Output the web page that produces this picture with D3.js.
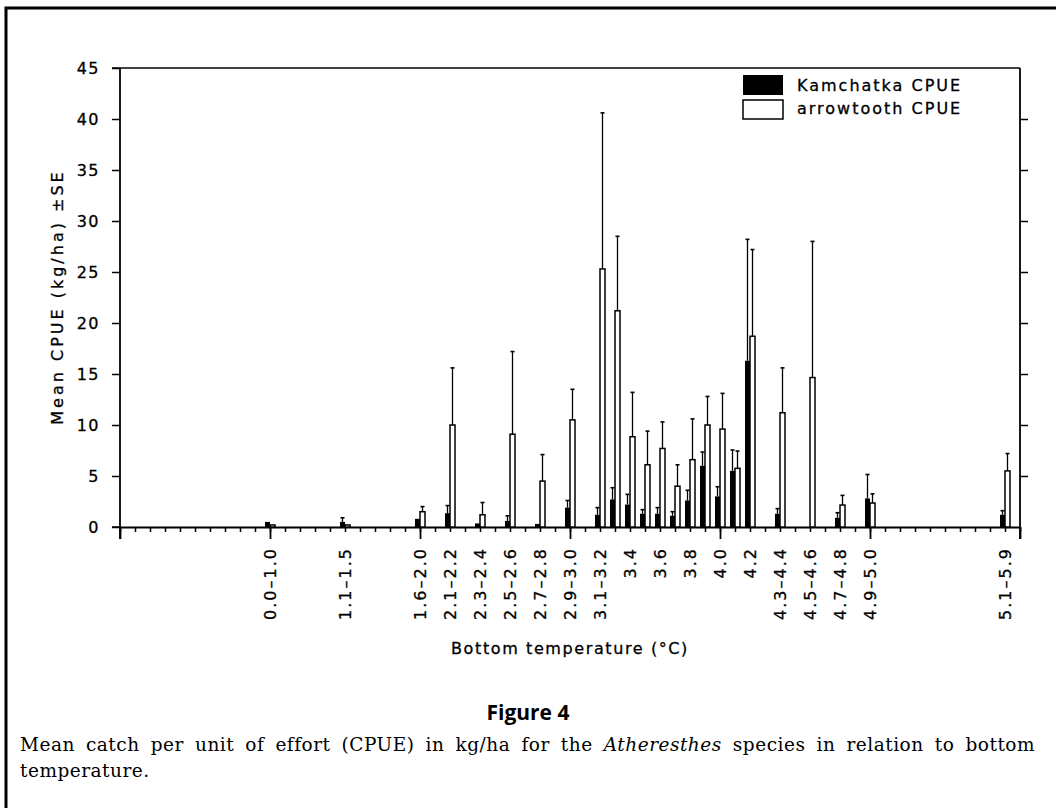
<!DOCTYPE html>
<html>
<head>
<meta charset="utf-8">
<script src="https://cdn.jsdelivr.net/npm/d3@7"></script>
<style>
  body { margin: 0; background: #fff; }
  svg { display: block; }
  .lbl { font-size: 16px; fill: #000; stroke: #000; stroke-width: 0.3px; }
  .cap { font-family: 'DejaVu Serif', serif; font-size: 18.5px; letter-spacing: 0.5px; }
</style>
</head>
<body>
<div id="fig"></div>
<script>
// temperature classes (bins) and their slot on the axis
var tempClass = ["0.0–1.0","1.1–1.5","1.6–2.0","2.1–2.2","2.3–2.4","2.5–2.6","2.7–2.8","2.9–3.0","3.1–3.2","3.3","3.4","3.5","3.6","3.7","3.8","3.9","4.0","4.1","4.2","4.3–4.4","4.5–4.6","4.7–4.8","4.9–5.0","5.1–5.9"];
var slot = [10,15,20,22,24,26,28,30,32,33,34,35,36,37,38,39,40,41,42,44,46,48,50,59];
// classes drawn without a tick label
var unlabeled = ["3.3","3.5","3.7","3.9","4.1"];

// mean CPUE (kg/ha) and SE
var kamchatka   = [0.5,0.5,0.8,1.35,0.35,0.6,0.3,1.9,1.2,2.7,2.2,1.3,1.3,1.1,2.6,6.0,3.0,5.5,16.3,1.3,0,0.9,2.8,1.2];
var kamchatkaSE = [0,0.4,0,0.75,0,0.5,0,0.7,0.7,1.15,1.0,0.4,0.6,0.4,1.0,1.35,0.95,2.05,11.9,0.5,0,0.5,2.35,0.4];
var arrowtooth   = [0.2,0.2,1.5,10.0,1.2,9.1,4.5,10.5,25.3,21.2,8.85,6.1,7.7,4.0,6.6,10.0,9.6,5.75,18.7,11.2,14.65,2.15,2.35,5.5];
var arrowtoothSE = [0,0,0.5,5.6,1.2,8.1,2.6,3.0,15.3,7.3,4.35,3.3,2.6,2.1,4.0,2.8,3.5,1.7,8.5,4.4,13.35,0.95,0.9,1.7];

var yTicks = [0,5,10,15,20,25,30,35,40,45];

var W = 1056, H = 808;
var svg = d3.select("#fig").append("svg")
    .attr("width", W).attr("height", H)
    .style("font-family", "'DejaVu Sans', sans-serif");

// page frame
svg.append("path")
    .attr("d", "M6,808V8H1056")
    .attr("fill", "none").attr("stroke", "#000").attr("stroke-width", 3);

var x = d3.scaleLinear().domain([0, 60]).range([120, 1020]);
var y = d3.scaleLinear().domain([0, 45]).range([527, 68]);
var bw = 5;

var rows = tempClass.map(function(c, i) {
    return {c: c, s: slot[i], k: kamchatka[i], kse: kamchatkaSE[i], a: arrowtooth[i], ase: arrowtoothSE[i]};
});

// frame lines
var g = svg.append("g");
g.append("line").attr("x1", 112).attr("x2", 1020).attr("y1", y(45)).attr("y2", y(45))
    .attr("stroke", "#000").attr("stroke-width", 1.5);
g.append("line").attr("x1", 120).attr("x2", 120).attr("y1", y(45)).attr("y2", y(0) + 12)
    .attr("stroke", "#000").attr("stroke-width", 1.8);
g.append("line").attr("x1", 1020).attr("x2", 1020).attr("y1", y(45)).attr("y2", y(0) + 12)
    .attr("stroke", "#000").attr("stroke-width", 1.8);

// left axis
var yl = svg.append("g").attr("transform", "translate(120,0)")
    .call(d3.axisLeft(y).tickValues(yTicks).tickSize(8).tickPadding(12).tickSizeOuter(0));
yl.select(".domain").remove();
yl.selectAll("text").attr("class", "lbl").style("letter-spacing", "1.5px");
yl.selectAll("line").attr("stroke-width", 1.5);
yl.attr("font-family", null).attr("font-size", null);

// right axis
var yr = svg.append("g").attr("transform", "translate(1020,0)")
    .call(d3.axisRight(y).tickValues(yTicks.slice(1, 9)).tickSize(8).tickFormat(""));
yr.select(".domain").remove();
yr.selectAll("line").attr("stroke-width", 1.5);

// bottom axis, minor and major ticks
var xb = svg.append("g").attr("transform", "translate(0," + y(0) + ")")
    .call(d3.axisBottom(x).tickValues(d3.range(0, 61)).tickSize(5).tickFormat("").tickSizeOuter(0));
xb.select(".domain").attr("stroke-width", 1.8);
xb.selectAll("line").attr("stroke-width", 1.5);
var xm = svg.append("g").attr("transform", "translate(0," + y(0) + ")")
    .call(d3.axisBottom(x).tickValues(d3.range(0, 61, 10)).tickSize(12).tickFormat(""));
xm.select(".domain").remove();
xm.selectAll("line").attr("stroke-width", 1.8);
svg.append("line").attr("x1", 112).attr("x2", 120).attr("y1", y(0)).attr("y2", y(0))
    .attr("stroke", "#000").attr("stroke-width", 1.5);

// rotated class labels
svg.append("g").selectAll("text")
    .data(rows.filter(function(d) { return unlabeled.indexOf(d.c) < 0; }))
    .enter().append("text")
    .attr("class", "lbl")
    .attr("transform", function(d) { return "translate(" + (x(d.s) + 6) + ",547) rotate(-90)"; })
    .attr("text-anchor", "end")
    .style("letter-spacing", "2px")
    .text(function(d) { return d.c; });

// bars
var bars = svg.append("g");
bars.selectAll("rect.kam").data(rows).enter().append("rect")
    .attr("class", "kam")
    .attr("x", function(d) { return x(d.s) - bw; })
    .attr("y", function(d) { return y(d.k); })
    .attr("width", bw)
    .attr("height", function(d) { return y(0) - y(d.k); })
    .attr("fill", "#000");
bars.selectAll("rect.arr").data(rows).enter().append("rect")
    .attr("class", "arr")
    .attr("x", function(d) { return x(d.s); })
    .attr("y", function(d) { return y(d.a); })
    .attr("width", bw)
    .attr("height", function(d) { return y(0) - y(d.a); })
    .attr("fill", "#fff").attr("stroke", "#000").attr("stroke-width", 1.5);

// SE whiskers (upper only)
function whisker(cls, off, val, se) {
    var data = rows.filter(function(d) { return d[se] > 0; });
    var w = bars.selectAll("g." + cls).data(data).enter().append("g").attr("class", cls);
    w.append("line")
        .attr("x1", function(d) { return x(d.s) + off; })
        .attr("x2", function(d) { return x(d.s) + off; })
        .attr("y1", function(d) { return y(d[val]); })
        .attr("y2", function(d) { return y(d[val] + d[se]); })
        .attr("stroke", "#000").attr("stroke-width", 1.3);
    w.append("line")
        .attr("x1", function(d) { return x(d.s) + off - 2; })
        .attr("x2", function(d) { return x(d.s) + off + 2; })
        .attr("y1", function(d) { return y(d[val] + d[se]); })
        .attr("y2", function(d) { return y(d[val] + d[se]); })
        .attr("stroke", "#000").attr("stroke-width", 1.6);
}
whisker("kw", -bw / 2, "k", "kse");
whisker("aw", bw / 2, "a", "ase");

// legend
svg.append("rect").attr("x", 743).attr("y", 75).attr("width", 40).attr("height", 20).attr("fill", "#000");
svg.append("rect").attr("x", 743).attr("y", 100).attr("width", 40).attr("height", 19)
    .attr("fill", "#fff").attr("stroke", "#000").attr("stroke-width", 1.5);
svg.append("text").attr("class", "lbl").attr("x", 797).attr("y", 91).style("letter-spacing", "2px").text("Kamchatka CPUE");
svg.append("text").attr("class", "lbl").attr("x", 797).attr("y", 114).style("letter-spacing", "2px").text("arrowtooth CPUE");

// axis titles
svg.append("text").attr("class", "lbl").attr("x", 570).attr("y", 654).attr("text-anchor", "middle")
    .style("letter-spacing", "1.6px")
    .text("Bottom temperature (°C)");
svg.append("text").attr("class", "lbl").attr("transform", "translate(63,297) rotate(-90)").attr("text-anchor", "middle")
    .style("letter-spacing", "3px")
    .text("Mean CPUE (kg/ha) ±SE");

// caption
svg.append("text").attr("x", 528).attr("y", 720).attr("text-anchor", "middle")
    .style("font-family", "'Open Sans', sans-serif").style("font-weight", "bold").style("font-size", "21px")
    .text("Figure 4");
var cap = svg.append("text").attr("class", "cap").attr("x", 20).attr("y", 751);
cap.append("tspan").text("Mean catch per unit of effort (CPUE) in kg/ha for the ");
cap.append("tspan").style("font-style", "italic").text("Atheresthes");
cap.append("tspan").text(" species in relation to bottom");
// justify the first line by widening the word gaps
var natural = cap.node().getComputedTextLength();
var gaps = (cap.text().match(/ /g) || []).length;
cap.style("word-spacing", Math.max(0, (1015 - natural) / gaps) + "px");
svg.append("text").attr("class", "cap").attr("x", 20).attr("y", 777)
    .text("temperature.");
</script>
</body>
</html>
